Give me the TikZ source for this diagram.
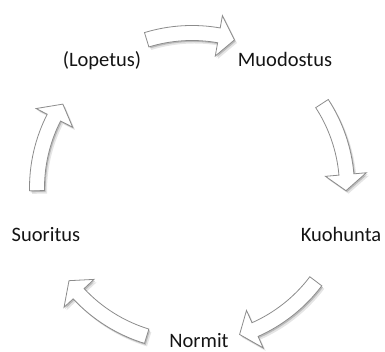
\documentclass[tikz,border=0pt]{standalone}
\usepackage{fontspec}
\setmainfont{Carlito}
\usepackage{tikz}
\usetikzlibrary{calc, shadows, positioning}

\definecolor{arcedge}{RGB}{140,140,140}
\definecolor{labeltext}{RGB}{20,20,20}

\tikzset{
  blockarc/.style={fill=white, draw=arcedge, line width=0.8pt, line join=miter,
    drop shadow={shadow xshift=1.2pt, shadow yshift=-1.5pt, opacity=0.18, fill=black},
    drop shadow={shadow xshift=2.5pt, shadow yshift=-3pt, opacity=0.10, fill=black}},
  phase/.style={anchor=base, text=labeltext, font=\fontsize{20.5}{24}\selectfont}
}

\begin{document}
\begin{tikzpicture}[x=1pt, y=1pt]
  \useasboundingbox (0,0) rectangle (385,352);

  % Cycle center
  \coordinate (C) at (192,164);

  % Block arc arrows (tail angle / tip angle)
  \foreach \tail/\tip in {107/74, 33/-1, -37/-72, -107/-143, 181/147} {
    \pgfmathsetmacro{\hb}{\tip+6}
    \draw[blockarc] ($(C)+(\tail:147.5)$)
      arc[start angle=\tail, end angle=\hb, radius=147.5pt]
      -- ($(C)+(\hb:134)$) -- ($(C)+(\tip:154)$) -- ($(C)+(\hb:175)$)
      -- ($(C)+(\hb:162.5)$)
      arc[start angle=\hb, end angle=\tail, radius=162.5pt] -- cycle;
  }

  % Phase labels
  \node[phase] (lopetus) at (102,285) {(Lopetus)};
  \node[phase] (muodostus) at (285,285) {Muodostus};
  \node[phase] (kuohunta) at (341,110) {Kuohunta};
  \node[phase] (normit) at (199,4) {Normit};
  \node[phase] (suoritus) at (46,110) {Suoritus};
\end{tikzpicture}
\end{document}
